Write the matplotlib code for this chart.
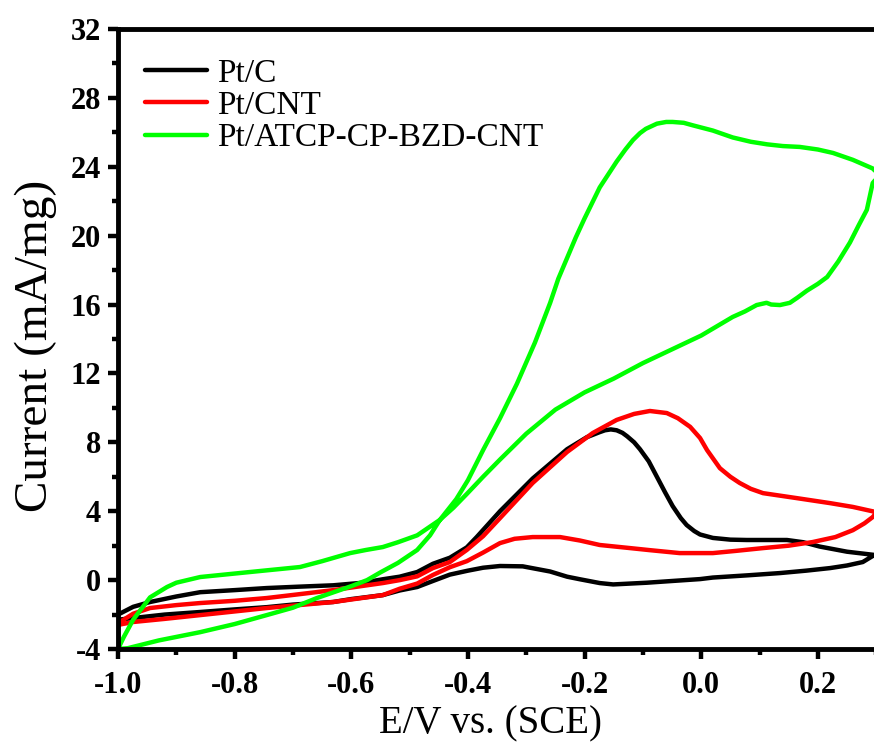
import matplotlib
matplotlib.use("Agg")
import matplotlib.pyplot as plt
from matplotlib.ticker import MultipleLocator

plt.rcParams['font.family'] = ['Liberation Serif', 'DejaVu Serif']

# Pt/C : forward scan (-1.0 -> 0.3) then reverse scan (0.3 -> -1.0)
ptc_fwd_x = [-1.0, -0.974, -0.945, -0.90, -0.859, -0.80, -0.745, -0.69, -0.631, -0.58,
             -0.546, -0.517, -0.487, -0.46, -0.431, -0.402, -0.385, -0.345, -0.289, -0.23,
             -0.196, -0.175, -0.165, -0.155, -0.145, -0.135, -0.127, -0.115, -0.105, -0.09,
             -0.076, -0.062, -0.049, -0.035, -0.025, -0.012, -0.002, 0.02, 0.05, 0.078,
             0.11, 0.147, 0.175, 0.203, 0.25, 0.30]
ptc_fwd_y = [-2.0, -1.55, -1.27, -0.95, -0.7, -0.58, -0.46, -0.38, -0.3, -0.15,
             0.05, 0.2, 0.47, 0.95, 1.3, 1.9, 2.5, 4.0, 5.9, 7.6,
             8.3, 8.58, 8.7, 8.75, 8.7, 8.55, 8.35, 8.0, 7.6, 6.9,
             6.0, 5.1, 4.3, 3.6, 3.2, 2.85, 2.65, 2.45, 2.35, 2.33,
             2.33, 2.33, 2.2, 1.95, 1.65, 1.45]
ptc_rev_x = [0.30, 0.294, 0.277, 0.25, 0.221, 0.18, 0.135, 0.08, 0.02, -0.002,
             -0.05, -0.093, -0.151, -0.174, -0.208, -0.23, -0.259, -0.306, -0.345, -0.374,
             -0.40, -0.431, -0.46, -0.487, -0.517, -0.546, -0.60, -0.631, -0.70, -0.745,
             -0.80, -0.859, -0.92, -0.974, -1.0]
ptc_rev_y = [1.45, 1.4, 1.05, 0.85, 0.7, 0.55, 0.41, 0.28, 0.15, 0.06,
             -0.05, -0.15, -0.25, -0.17, 0.05, 0.2, 0.5, 0.8, 0.82, 0.72,
             0.55, 0.32, -0.05, -0.4, -0.6, -0.87, -1.1, -1.27, -1.42, -1.57,
             -1.7, -1.85, -2.0, -2.2, -2.3]

# Pt/CNT
cnt_fwd_x = [-1.0, -0.974, -0.945, -0.90, -0.859, -0.80, -0.745, -0.69, -0.631, -0.546,
             -0.517, -0.487, -0.46, -0.431, -0.402, -0.374, -0.345, -0.289, -0.23, -0.186,
             -0.145, -0.115, -0.088, -0.059, -0.04, -0.019, -0.002, 0.01, 0.032, 0.05,
             0.066, 0.085, 0.106, 0.164, 0.221, 0.26, 0.30]
cnt_fwd_y = [-2.5, -1.95, -1.62, -1.45, -1.33, -1.2, -1.04, -0.82, -0.58, -0.17,
             0.0, 0.22, 0.7, 1.05, 1.75, 2.55, 3.6, 5.64, 7.44, 8.54,
             9.3, 9.65, 9.82, 9.7, 9.4, 8.9, 8.25, 7.55, 6.5, 6.0,
             5.64, 5.3, 5.05, 4.76, 4.47, 4.25, 3.95]
cnt_rev_x = [0.30, 0.294, 0.28, 0.26, 0.23, 0.191, 0.15, 0.106, 0.06, 0.02,
             -0.037, -0.088, -0.122, -0.174, -0.208, -0.242, -0.289, -0.32, -0.345, -0.374,
             -0.402, -0.431, -0.46, -0.487, -0.517, -0.546, -0.631, -0.745, -0.859, -0.92,
             -0.974, -1.0]
cnt_rev_y = [3.9, 3.66, 3.3, 2.9, 2.5, 2.21, 2.0, 1.86, 1.7, 1.57,
             1.57, 1.74, 1.86, 2.04, 2.3, 2.5, 2.5, 2.4, 2.15, 1.6,
             1.1, 0.75, 0.3, -0.2, -0.5, -0.87, -1.27, -1.62, -2.03, -2.25,
             -2.43, -2.6]

# Pt/ATCP-CP-BZD-CNT
atcp_fwd_x = [-1.0, -0.983, -0.93, -0.859, -0.80, -0.745, -0.70, -0.659, -0.60, -0.573,
              -0.55, -0.52, -0.487, -0.465, -0.448, -0.42, -0.40, -0.374, -0.345, -0.316,
              -0.285, -0.259, -0.245, -0.23, -0.215, -0.20, -0.174, -0.145, -0.13, -0.117,
              -0.105, -0.095, -0.076, -0.06, -0.049, -0.03, -0.014, 0.02, 0.054, 0.085,
              0.113, 0.14, 0.169, 0.20, 0.226, 0.26, 0.294, 0.30]
atcp_fwd_y = [-4.0, -3.95, -3.5, -3.02, -2.55, -2.03, -1.6, -1.04, -0.35, 0.0,
              0.45, 1.0, 1.75, 2.6, 3.5, 4.7, 5.8, 7.55, 9.4, 11.4,
              13.8, 16.1, 17.5, 18.7, 19.9, 21.0, 22.8, 24.3, 25.0, 25.55,
              25.95, 26.2, 26.5, 26.6, 26.6, 26.55, 26.4, 26.1, 25.7, 25.45,
              25.3, 25.2, 25.15, 25.0, 24.8, 24.4, 23.9, 23.7]
atcp_rev_x = [0.30, 0.294, 0.284, 0.27, 0.255, 0.235, 0.216, 0.2, 0.181, 0.165,
              0.152, 0.135, 0.12, 0.112, 0.095, 0.075, 0.054, 0.025, 0.0, -0.05,
              -0.1, -0.15, -0.2, -0.25, -0.3, -0.345, -0.374, -0.402, -0.425, -0.448,
              -0.487, -0.52, -0.546, -0.575, -0.602, -0.65, -0.688, -0.774, -0.859, -0.90,
              -0.916, -0.945, -0.974, -0.99, -1.0]
atcp_rev_y = [23.3, 23.05, 21.5, 20.6, 19.6, 18.5, 17.6, 17.2, 16.8, 16.4,
              16.1, 15.97, 16.0, 16.1, 15.97, 15.6, 15.28, 14.7, 14.2, 13.4,
              12.6, 11.7, 10.9, 9.9, 8.5, 7.0, 6.0, 5.0, 4.2, 3.5,
              2.6, 2.2, 1.92, 1.75, 1.57, 1.1, 0.76, 0.47, 0.18, -0.15,
              -0.4, -1.0, -2.3, -3.3, -4.0]

labels = ['Pt/C', 'Pt/CNT', 'Pt/ATCP-CP-BZD-CNT']
colors = ['#000000', '#ff0000', '#00ff00']
curves = [(ptc_fwd_x + ptc_rev_x, ptc_fwd_y + ptc_rev_y),
          (cnt_fwd_x + cnt_rev_x, cnt_fwd_y + cnt_rev_y),
          (atcp_fwd_x + atcp_rev_x, atcp_fwd_y + atcp_rev_y)]

fig = plt.figure(figsize=(8.74, 7.42), dpi=100)
ax = fig.add_axes([0.135, 0.1253, 0.8675, 0.8357])

for (x, y), lab, c in zip(curves, labels, colors):
    ax.plot(x, y, color=c, lw=3.2, label=lab,
            solid_joinstyle='round', solid_capstyle='round')

ax.set_xlim(-1.0, 0.3)
ax.set_ylim(-4, 32)
ax.xaxis.set_minor_locator(MultipleLocator(0.1))
ax.yaxis.set_minor_locator(MultipleLocator(2))
ax.set_xticks([-1.0, -0.8, -0.6, -0.4, -0.2, 0.0, 0.2])
ax.set_xticklabels(['-1.0', '-0.8', '-0.6', '-0.4', '-0.2', '0.0', '0.2'])
ax.set_yticks(range(-4, 33, 4))
ax.set_yticklabels([str(v) for v in range(-4, 33, 4)])

for side in ['left', 'bottom', 'top', 'right']:
    ax.spines[side].set_linewidth(3.5)
ax.tick_params(which='major', direction='out', length=7, width=3.2,
               labelsize=22, top=False, right=False)
ax.tick_params(axis='x', which='major', pad=9)
ax.tick_params(axis='y', which='major', pad=5)
ax.tick_params(which='minor', direction='out', length=4, width=3.2,
               top=False, right=False)
for t in ax.get_xticklabels() + ax.get_yticklabels():
    t.set_fontweight('bold')

# axis titles placed by their baselines
ax.set_xlabel('E/V vs. (SCE)', fontsize=28, va='baseline')
ax.xaxis.set_label_coords(0.491, -0.1355)
ax.set_ylabel('Current (mA/mg)', fontsize=34, va='baseline')
ax.yaxis.set_label_coords(-0.0937, 0.4895)

ax.legend(loc='upper left', frameon=False, fontsize=24, handlelength=1.85,
          handletextpad=0.3, labelspacing=0.05, borderaxespad=0.3,
          bbox_to_anchor=(0.005, 0.99))

fig.savefig('out.png', dpi=100)
